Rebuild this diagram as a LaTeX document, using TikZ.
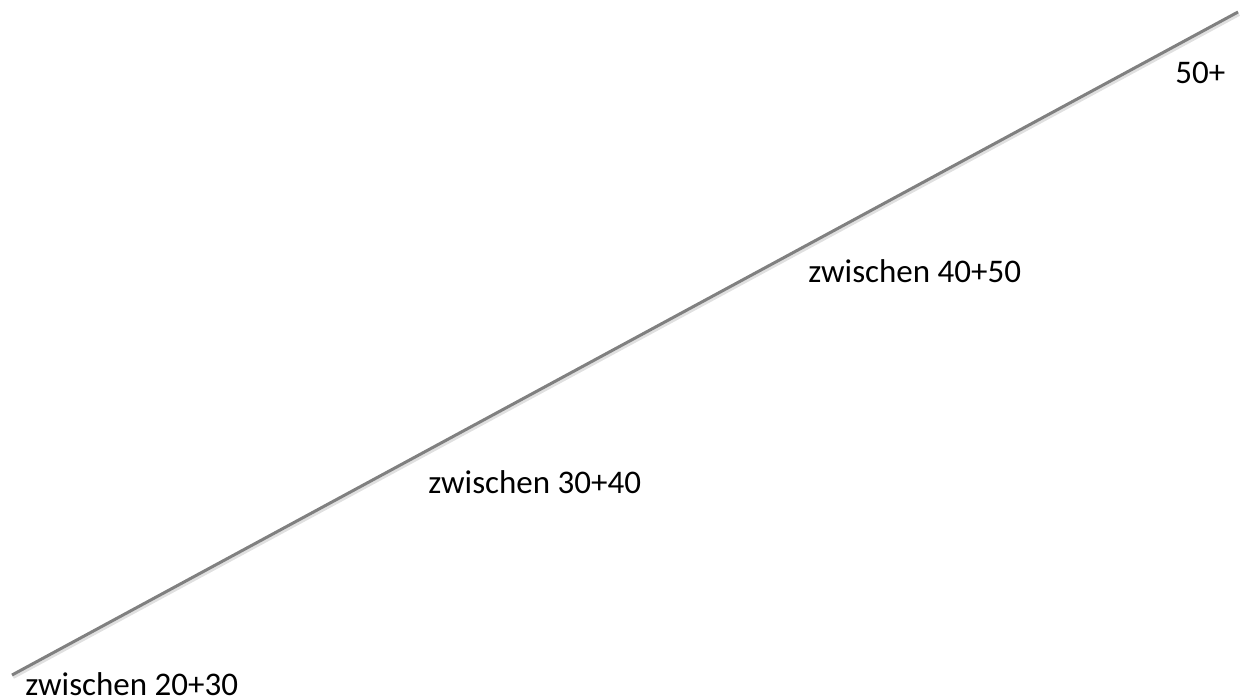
\documentclass[tikz,border=0pt]{standalone}
\usepackage{fontspec}
\setmainfont{Carlito}
\usepackage{xcolor}
\usepackage{tikz}
\usetikzlibrary{positioning}
\definecolor{linegray}{RGB}{128,128,128}
\tikzset{
    ageline/.style={
        draw=linegray,
        line width=1.5pt,
        line cap=butt
    },
    agelabel/.style={
        anchor=base west,
        inner sep=0pt,
        font=\fontsize{16.5pt}{19pt}\selectfont
    }
}

\begin{document}
\begin{tikzpicture}[x=0.5pt, y=-0.5pt]

\useasboundingbox (0,0) rectangle (1240,697);

% Age axis
\coordinate (young) at (12,675);
\coordinate (old) at (1238,12);
\draw[ageline, draw=black!12, line width=2pt] ([shift={(1,2)}]young) -- ([shift={(1,2)}]old);
\draw[ageline] (young) -- (old);

% Age groups
\node[agelabel] (age20) at (25,695) {zwischen 20+30};
\node[agelabel] (age30) at (428,493) {zwischen 30+40};
\node[agelabel] (age40) at (808,282) {zwischen 40+50};
\node[agelabel] (age50) at (1175,83) {50+};

\end{tikzpicture}
\end{document}
